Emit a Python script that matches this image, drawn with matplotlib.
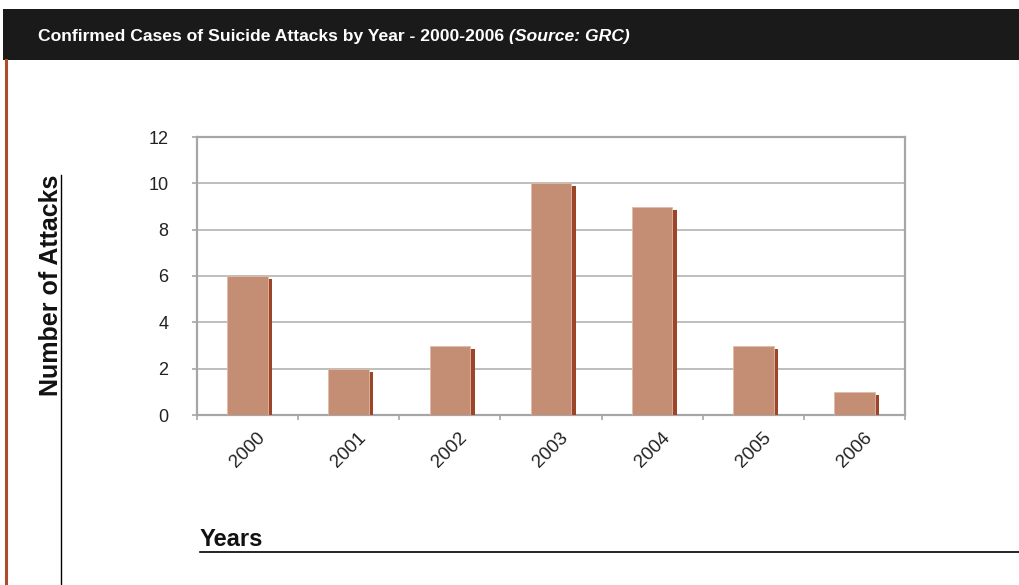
import matplotlib
matplotlib.use("Agg")
import matplotlib.pyplot as plt
import matplotlib.patheffects as pe
from matplotlib.lines import Line2D
from matplotlib.patches import Rectangle
import numpy as np

# Data
years = ["2000", "2001", "2002", "2003", "2004", "2005", "2006"]
attacks = [6, 2, 3, 10, 9, 3, 1]
y_ticks = [0, 2, 4, 6, 8, 10, 12]

title_main = "Confirmed Cases of Suicide Attacks by Year - 2000-2006"
title_source = "(Source: GRC)"
y_label = "Number of Attacks"
x_label = "Years"

W, H = 1019, 585
fig = plt.figure(figsize=(W / 100, H / 100), dpi=100)
fig.patch.set_facecolor("white")

def fx(px):
    return px / W

def fy(py):
    return 1 - py / H

sans = ["Liberation Sans", "DejaVu Sans"]

# Header bar
fig.patches.append(Rectangle((fx(3), fy(60)), fx(W - 3), (60 - 9) / H,
                             transform=fig.transFigure, facecolor="#1b1a1a",
                             edgecolor="none", zorder=0))
t_main = fig.text(fx(38), fy(41), title_main, color="white", fontsize=12.6,
                  fontweight="bold", family=sans, va="baseline", ha="left")
fig.canvas.draw()
bb = t_main.get_window_extent(renderer=fig.canvas.get_renderer())
fig.text(bb.x1 / W + fx(5), fy(41), title_source, color="white", fontsize=12.6,
         fontweight="bold", fontstyle="italic", family=sans,
         va="baseline", ha="left")

# Page rules
fig.add_artist(Line2D([fx(6), fx(6)], [fy(60), 0], transform=fig.transFigure,
                      color="#b04a2c", linewidth=2.2))
fig.add_artist(Line2D([fx(61), fx(61)], [fy(175), 0], transform=fig.transFigure,
                      color="black", linewidth=1.0))
fig.add_artist(Line2D([fx(200), 1], [fy(552), fy(552)], transform=fig.transFigure,
                      color="black", linewidth=1.2))

fig.text(fx(63), fy(285), y_label, rotation=90, fontsize=18, fontweight="bold",
         family=sans, ha="right", va="center", color="#111111")
fig.text(fx(200), fy(546), x_label, fontsize=17, fontweight="bold",
         family=sans, ha="left", va="baseline", color="#111111")

# Chart
left, right, top, bottom = 197, 905, 137, 415
ax = fig.add_axes([fx(left), fy(bottom), (right - left) / W, (bottom - top) / H])
x = np.arange(len(years))
shadow = pe.SimplePatchShadow(offset=(3.2, -2.2), shadow_rgbFace="#9c4529",
                              alpha=1.0, rho=1.0)
ax.bar(x, attacks, width=0.4, color="#c48e74", edgecolor="#e2bba8",
       linewidth=0.6, zorder=3,
       path_effects=[shadow, pe.Normal()])

ax.set_xlim(-0.5, len(years) - 0.5)
ax.set_ylim(0, 12)
ax.set_yticks(y_ticks)
ax.set_yticklabels([str(t) for t in y_ticks], family=sans, fontsize=13,
                   color="#222222")
ax.set_xticks(x)
ax.set_xticklabels(years, rotation=45, ha="center", va="top", family=sans,
                   fontsize=13.5, color="#222222")
ax.tick_params(axis="x", length=0, pad=10)
ax.set_xticks(np.arange(-0.5, len(years)), minor=True)
ax.tick_params(axis="x", which="minor", length=3.5, width=1.2, color="#a6a6a6")
ax.tick_params(axis="y", length=3.5, width=1.2, color="#a6a6a6", pad=17)

ax.grid(axis="y", color="#b3b3b3", linewidth=1.2, zorder=0)
ax.set_axisbelow(True)
for s in ax.spines.values():
    s.set_color("#a6a6a6")
    s.set_linewidth(1.6)

fig.savefig("out.png", dpi=100)
